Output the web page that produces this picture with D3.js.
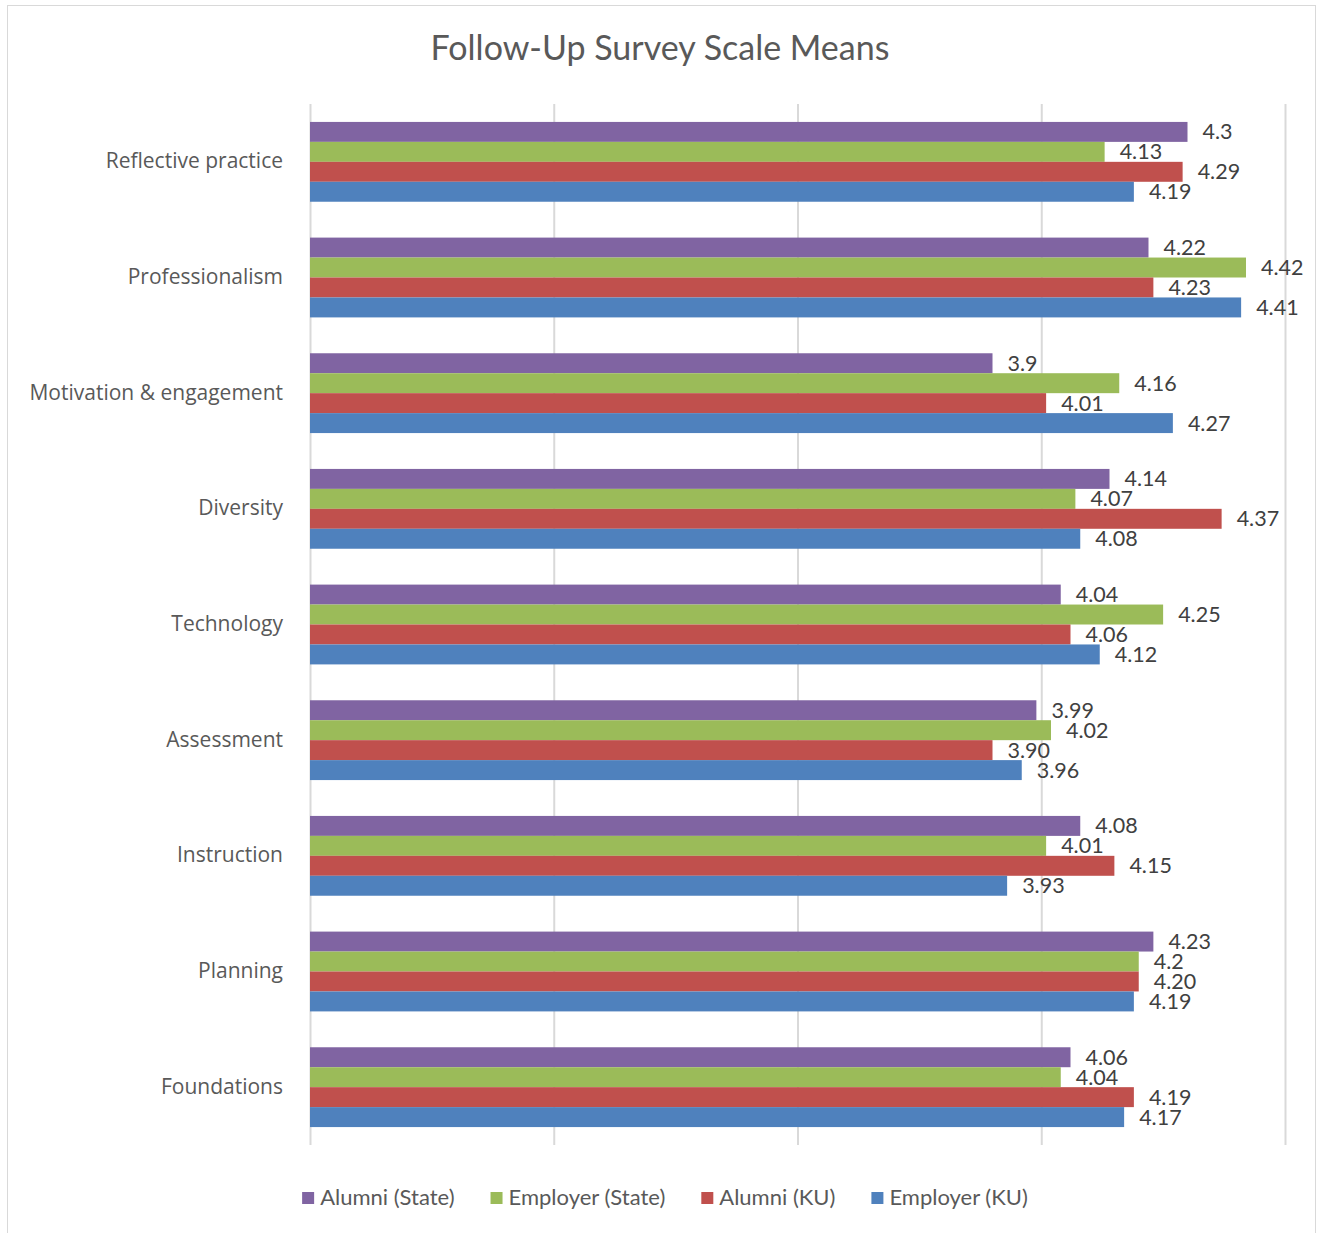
<!DOCTYPE html>
<html>
<head>
<meta charset="utf-8">
<script src="https://cdn.jsdelivr.net/npm/d3@7"></script>
<style>
  body { margin: 0; background: #fff; }
  svg { display: block; }
</style>
</head>
<body>
<svg id="chart" width="1320" height="1233"></svg>
<script>
// Survey scale means, categories top to bottom

const categories = [
    'Reflective practice', 'Professionalism', 'Motivation & engagement', 'Diversity',
    'Technology', 'Assessment', 'Instruction', 'Planning', 'Foundations'
];

// labels kept as printed in the picture (some with 2 decimals, some not)
const alumniState   = ['4.3', '4.22', '3.9', '4.14', '4.04', '3.99', '4.08', '4.23', '4.06'];
const employerState = ['4.13', '4.42', '4.16', '4.07', '4.25', '4.02', '4.01', '4.2', '4.04'];
const alumniKU      = ['4.29', '4.23', '4.01', '4.37', '4.06', '3.90', '4.15', '4.20', '4.19'];
const employerKU    = ['4.19', '4.41', '4.27', '4.08', '4.12', '3.96', '3.93', '4.19', '4.17'];

const seriesNames = ['Alumni (State)', 'Employer (State)', 'Alumni (KU)', 'Employer (KU)'];
const seriesValues = [alumniState, employerState, alumniKU, employerKU];
const seriesColors = ['#8064A2', '#9BBB59', '#C0504D', '#4F81BD'];

const xDomain = [2.5, 4.5];
const gridTicks = [2.5, 3, 3.5, 4, 4.5];

const svg = d3.select('#chart');
const textFont = 'Lato, "Open Sans", sans-serif';
const catFont = '"Open Sans", "Noto Sans", sans-serif';

// chart border
svg.append('rect')
    .attr('x', 7.5).attr('y', 5.5)
    .attr('width', 1308).attr('height', 1240)
    .attr('fill', '#fff')
    .attr('stroke', '#d9d9d9')
    .attr('stroke-width', 1);

// title
svg.append('text')
    .attr('x', 660)
    .attr('y', 51)
    .attr('text-anchor', 'middle')
    .attr('dominant-baseline', 'middle')
    .attr('font-family', textFont)
    .attr('font-size', 34)
    .attr('fill', '#595959')
    .text('Follow-Up Survey Scale Means');

const plot = { left: 310, right: 1285, top: 104, bottom: 1145 };

const x = d3.scaleLinear()
    .domain(xDomain)
    .range([plot.left, plot.right]);

const y = d3.scaleBand()
    .domain(categories)
    .range([plot.top, plot.bottom])
    .paddingInner(0.31)
    .paddingOuter(0.155);

const ySub = d3.scaleBand()
    .domain(seriesNames)
    .range([0, y.bandwidth()]);

// gridlines
const grid = svg.append('g')
    .attr('transform', `translate(0,${plot.bottom})`)
    .call(d3.axisBottom(x)
        .tickValues(gridTicks)
        .tickSize(-(plot.bottom - plot.top))
        .tickFormat(''));
grid.select('.domain').remove();
grid.selectAll('line')
    .attr('stroke', '#d9d9d9')
    .attr('stroke-width', 2);

// build rows
const rows = [];
categories.forEach((c, i) => {
    seriesNames.forEach((s, j) => {
        rows.push({ cat: c, series: s, label: seriesValues[j][i], value: +seriesValues[j][i], color: seriesColors[j] });
    });
});

const groups = svg.append('g');

groups.selectAll('rect.bar')
    .data(rows)
    .join('rect')
    .attr('class', 'bar')
    .attr('x', x(xDomain[0]))
    .attr('y', d => y(d.cat) + ySub(d.series))
    .attr('width', d => x(d.value) - x(xDomain[0]))
    .attr('height', ySub.bandwidth())
    .attr('fill', d => d.color);

// data labels
groups.selectAll('text.val')
    .data(rows)
    .join('text')
    .attr('class', 'val')
    .attr('x', d => x(d.value) + 15)
    .attr('y', d => y(d.cat) + ySub(d.series) + ySub.bandwidth() / 2 + 2)
    .attr('dominant-baseline', 'middle')
    .attr('font-family', textFont)
    .attr('font-size', 21.5)
    .attr('fill', '#404040')
    .text(d => d.label);

// category labels
svg.append('g').selectAll('text')
    .data(categories)
    .join('text')
    .attr('x', 283)
    .attr('y', d => y(d) + y.bandwidth() / 2 + 1)
    .attr('text-anchor', 'end')
    .attr('dominant-baseline', 'middle')
    .attr('font-family', catFont)
    .attr('font-size', 21)
    .attr('fill', '#595959')
    .text(d => d);

// legend
const legend = svg.append('g');
const legendItems = legend.selectAll('g')
    .data(seriesNames)
    .join('g');

legendItems.append('rect')
    .attr('width', 12).attr('height', 12)
    .attr('y', -6)
    .attr('fill', (d, i) => seriesColors[i]);

legendItems.append('text')
    .attr('x', 18)
    .attr('y', 1)
    .attr('dominant-baseline', 'middle')
    .attr('font-family', textFont)
    .attr('font-size', 22)
    .attr('fill', '#595959')
    .text(d => d);

// lay out legend items in a centered row
let widths = [];
legendItems.each(function () {
    widths.push(this.getBBox().width);
});
const gap = 36;
const total = d3.sum(widths) + gap * (widths.length - 1);
let cursor = 665 - total / 2;
legendItems.attr('transform', (d, i) => {
    const t = `translate(${cursor},1198)`;
    cursor += widths[i] + gap;
    return t;
});
</script>
</body>
</html>
